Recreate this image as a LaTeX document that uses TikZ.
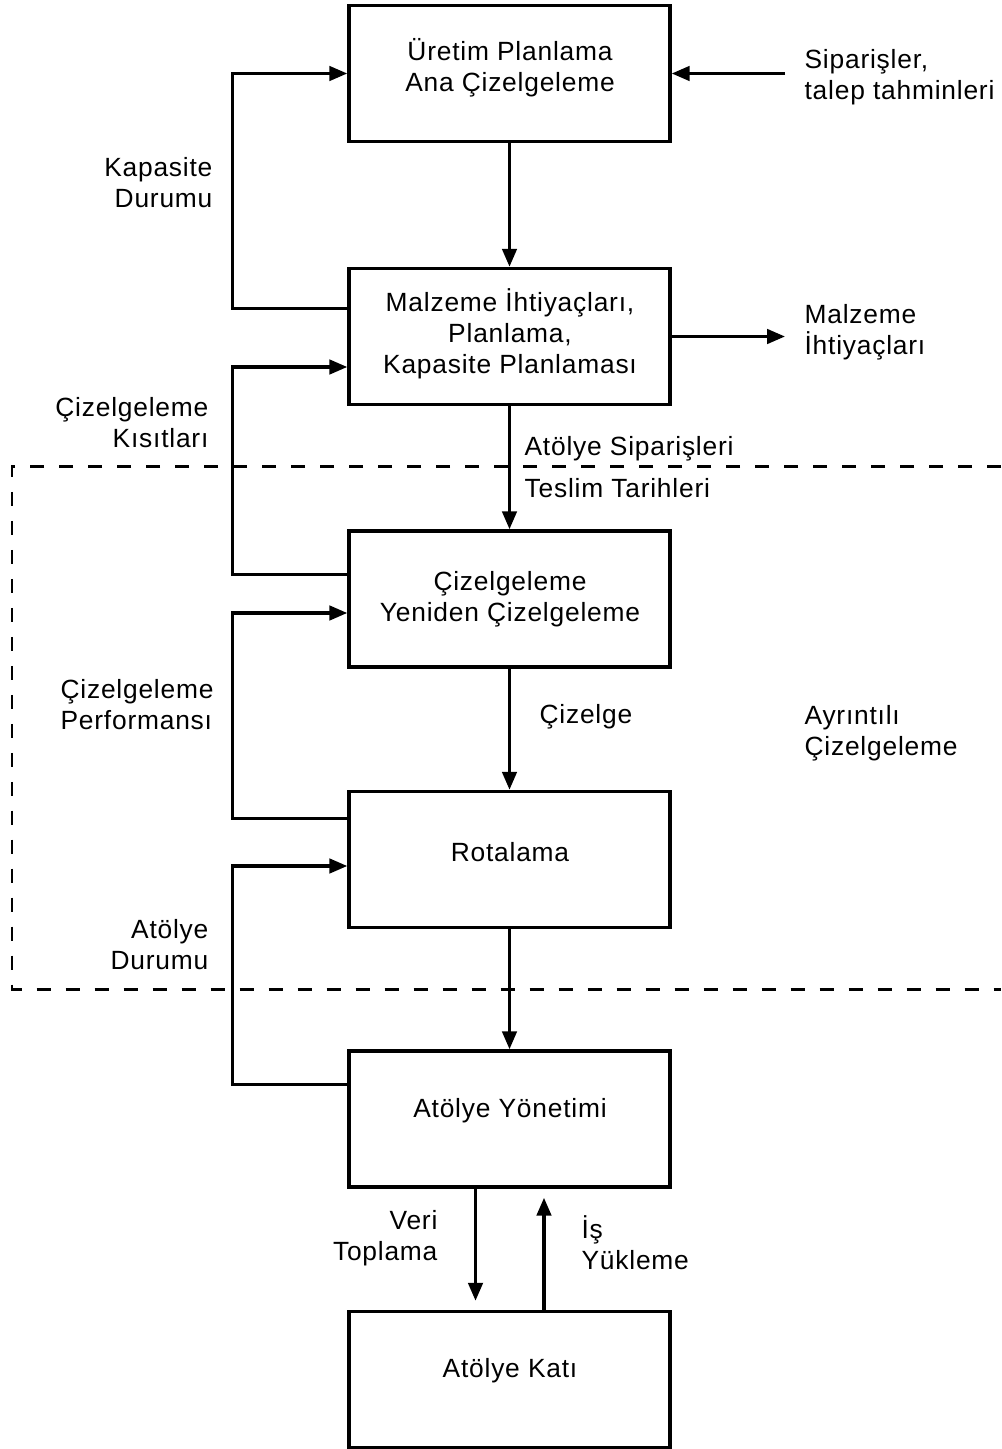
\documentclass[tikz,border=0pt]{standalone}
\usepackage{fontspec}
\setmainfont{Liberation Sans}[LetterSpace=3]
\usetikzlibrary{arrows.meta,calc}
\begin{document}
\begin{tikzpicture}[x=0.02cm,y=-0.02cm,
  line width=0.065cm,
  box/.style={draw,line width=0.07cm,minimum width=6.42cm,minimum height=2.72cm,inner sep=0pt},
  txt/.style={font=\fontsize{15}{17.6}\selectfont,inner sep=0pt},
  arr/.style={-{Triangle[length=0.36cm,width=0.29cm]}},
  frame/.style={dashed,dash pattern=on 0.28cm off 0.3cm,line width=0.06cm}]
\useasboundingbox (0,0) rectangle (1001,1449);

% boxes of the control chain
\node[box] (b1) at (509.5,73.5) {};
\node[box] (b2) at (509.5,336.5) {};
\node[box] (b3) at (509.5,599) {};
\node[box] (b4) at (509.5,859.5) {};
\node[box] (b5) at (509.5,1119) {};
\node[box] (b6) at (509.5,1379.5) {};

\node[txt,align=center] (t1) at (510,68) {Üretim Planlama\\Ana Çizelgeleme};
\node[txt,align=center] (t2) at (510,334) {Malzeme İhtiyaçları,\\Planlama,\\Kapasite Planlaması};
\node[txt,align=center] (t3) at (510,599.5) {Çizelgeleme\\Yeniden Çizelgeleme};
\node[txt] (t4) at (510,852) {Rotalama};
\node[txt] (t5) at (510,1111) {Atölye Yönetimi};
\node[txt] (t6) at (510,1371) {Atölye Katı};

% detailed scheduling region
\draw[frame] (1001,466) -- (12,466) -- (12,989) -- (1001,989);

% main downward flow
\draw[arr] (b1.south) -- (b2.north);
\draw[arr] (b2.south) -- (b3.north);
\draw[arr] (b3.south) -- (b4.north);
\draw[arr] (b4.south) -- (b5.north);
\draw[arr] ([xshift=-0.68cm]b5.south) -- ([xshift=-0.68cm,yshift=0.18cm]b6.north);
\draw[arr] ([xshift=0.69cm]b6.north) -- ([xshift=0.69cm,yshift=-0.18cm]b5.south);

% feedback loops on the left
\draw[arr] ([yshift=-0.84cm]b2.north west) -- ++(-115,0) |- (b1.west);
\draw[arr] ([yshift=-0.90cm]b3.north west) -- ++(-115,0) |- ([yshift=-0.61cm]b2.west);
\draw[arr] ([yshift=-0.58cm]b4.north west) -- ++(-115,0) |- ([yshift=-0.28cm]b3.west);
\draw[arr] ([yshift=-0.70cm]b5.north west) -- ++(-115,0) |- ([yshift=-0.13cm]b4.west);

% external inputs and outputs
\coordinate (inR) at (785,73.5);
\coordinate (outR) at (785,336.5);
\draw[arr] (inR) -- (b1.east);
\draw[arr] (b2.east) -- (outR);

% labels
\node[txt,align=right,anchor=east] (l1) at (214,183) {Kapasite\\Durumu};
\node[txt,align=right,anchor=east] (l2) at (210,423) {Çizelgeleme\\Kısıtları};
\node[txt,align=left,anchor=west] (l3) at (59,705) {Çizelgeleme\\Performansı};
\node[txt,align=right,anchor=east] (l4) at (210,945) {Atölye\\Durumu};
\node[txt,align=left,anchor=west] (l5) at (803,77) {Siparişler,\\talep tahminleri};
\node[txt,align=left,anchor=west] (l6) at (803,332) {Malzeme\\İhtiyaçları};
\node[txt,anchor=west] (l7) at (523,449) {Atölye Siparişleri};
\node[txt,anchor=west] (l8) at (523,488) {Teslim Tarihleri};
\node[txt,anchor=west] (l9) at (538,717) {Çizelge};
\node[txt,align=left,anchor=west] (l10) at (803,733) {Ayrıntılı\\Çizelgeleme};
\node[txt,align=right,anchor=east] (l11) at (439,1238) {Veri\\Toplama};
\node[txt,align=left,anchor=west] (l12) at (580,1243) {İş\\Yükleme};
\end{tikzpicture}
\end{document}
